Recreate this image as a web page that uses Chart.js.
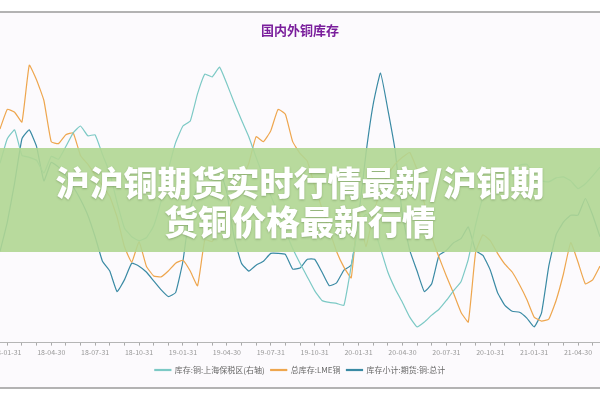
<!DOCTYPE html>
<html>
<head>
<meta charset="utf-8">
<script src="https://cdn.jsdelivr.net/npm/chart.js@4"></script>
<style>
  html, body { margin: 0; padding: 0; background: #ffffff; }
  #wrap { width: 600px; height: 400px; }
</style>
</head>
<body>
<div id="wrap"><canvas id="chart" width="600" height="400"></canvas></div>
<script>
// half-month sample dates
const dates = [
    '18-01-15','18-01-31','18-02-15','18-02-28','18-03-15','18-03-31','18-04-15','18-04-30','18-05-15','18-05-31','18-06-15','18-06-30',
    '18-07-15','18-07-31','18-08-15','18-08-31','18-09-15','18-09-30','18-10-15','18-10-31','18-11-15','18-11-30','18-12-15','18-12-31',
    '19-01-15','19-01-31','19-02-15','19-02-28','19-03-15','19-03-31','19-04-15','19-04-30','19-05-15','19-05-31','19-06-15','19-06-30',
    '19-07-15','19-07-31','19-08-15','19-08-31','19-09-15','19-09-30','19-10-15','19-10-31','19-11-15','19-11-30','19-12-15','19-12-31',
    '20-01-15','20-01-31','20-02-15','20-02-29','20-03-15','20-03-31','20-04-15','20-04-30','20-05-15','20-05-31','20-06-15','20-06-30',
    '20-07-15','20-07-31','20-08-15','20-08-31','20-09-15','20-09-30','20-10-15','20-10-31','20-11-15','20-11-30','20-12-15','20-12-31',
    '21-01-15','21-01-31','21-02-15','21-02-28','21-03-15','21-03-31','21-04-15','21-04-30','21-05-15','21-05-31','21-06-15'
];
const tickLabels = ['18-01-31','18-04-30','18-07-31','18-10-31','19-01-31','19-04-30','19-07-31','19-10-31',
    '20-01-31','20-04-30','20-07-31','20-10-31','21-01-31','21-04-30'];

// 库存:铜:上海保税区 (right axis, 万吨)
const bondedStock = [
    37.0, 42.0, 43.8, 38.6, 38.2, 37.6, 35.0, 38.4, 37.8, 40.4,
    43.2, 44.6, 42.6, 42.8, 38.8, 35.0, 29.0, 23.8, 22.0, 21.2,
    21.8, 24.2, 29.2, 35.6, 41.2, 44.6, 45.6, 51.2, 55.2, 54.6,
    56.6, 53.2, 49.4, 45.8, 42.4, 38.2, 34.2, 30.4, 26.8, 23.2,
    19.6, 16.6, 13.8, 11.0, 9.0, 8.6, 8.4, 8.0, 16.0, 24.0,
    26.6, 24.2, 19.6, 14.8, 11.4, 8.6, 5.6, 3.6, 4.6, 6.0,
    7.2, 9.0, 11.0, 12.8, 17.4, 24.4, 30.0, 31.8, 33.0, 34.0,
    35.2, 36.6, 36.8, 34.8, 33.4, 33.2, 34.0, 34.2, 33.4, 31.8,
    32.8, 34.4, 36.2
];
// 总库存:LME铜 (万吨)
const lmeStock = [
    22.0, 24.0, 23.7, 22.7, 28.5, 27.0, 24.9, 20.7, 20.5, 21.4,
    21.6, 19.3, 18.4, 17.3, 16.2, 15.1, 13.0, 10.0, 8.4, 10.5,
    8.0, 7.0, 6.9, 7.5, 8.3, 8.6, 7.5, 6.0, 10.7, 10.5,
    12.0, 13.5, 15.0, 16.7, 18.5, 21.2, 20.7, 21.8, 24.0, 23.5,
    20.7, 19.5, 18.7, 16.2, 13.9, 11.7, 9.5, 7.9, 6.8, 13.7,
    10.0, 13.2, 15.7, 17.3, 18.4, 19.1, 19.6, 17.8, 14.4, 11.0,
    8.9, 7.0, 5.2, 3.3, 2.3, 9.4, 11.2, 10.6, 9.3, 8.2,
    7.4, 6.1, 4.6, 2.8, 2.4, 2.6, 4.5, 7.2, 10.4, 8.4,
    6.2, 6.6, 8.0
];
// 库存小计:期货:铜:总计 (万吨)
const shfeStock = [
    9.5, 12.5, 16.5, 21.0, 21.9, 20.2, 16.7, 18.6, 18.1, 17.2,
    16.1, 14.8, 13.2, 11.0, 8.5, 7.5, 5.4, 6.6, 8.3, 8.0,
    7.4, 6.5, 5.6, 4.9, 5.3, 8.5, 13.9, 16.1, 17.2, 18.0,
    17.9, 15.5, 10.9, 8.3, 7.5, 8.1, 8.5, 9.3, 9.3, 9.2,
    7.7, 7.8, 8.7, 8.7, 7.4, 6.0, 6.3, 7.6, 8.1, 13.0,
    19.4, 24.5, 27.7, 24.0, 19.8, 13.2, 9.6, 7.5, 5.4, 6.2,
    9.1, 9.6, 10.4, 10.8, 12.0, 9.6, 9.1, 7.6, 5.3, 4.0,
    3.4, 3.3, 2.7, 1.8, 3.2, 8.0, 11.2, 12.5, 13.2, 13.2,
    14.9, 13.2, 11.0
];

const cjk = "'Noto Sans CJK SC', 'Noto Sans', sans-serif";

// page frame, background and the green banner on top
const decor = {
    id: 'decor',
    beforeDraw(chart) {
        const c = chart.ctx;
        c.save();
        c.fillStyle = '#fcfafd';
        c.fillRect(0, 12, 600, 376);
        c.strokeStyle = '#9a9a9a';
        c.lineWidth = 1.5;
        c.beginPath();
        c.moveTo(0, 12); c.lineTo(600, 12);
        c.moveTo(0, 388); c.lineTo(600, 388);
        c.stroke();
        c.restore();
    },
    afterDraw(chart) {
        const c = chart.ctx;
        c.save();
        c.fillStyle = 'rgba(176,214,146,0.9)';
        c.fillRect(0, 148, 600, 104);
        c.font = "900 34px " + cjk;
        c.textAlign = 'center';
        c.textBaseline = 'middle';
        c.shadowColor = 'rgba(60,90,40,0.35)';
        c.shadowBlur = 2;
        c.shadowOffsetY = 1;
        c.fillStyle = '#ffffff';
        c.fillText('沪沪铜期货实时行情最新/沪铜期', 300, 183);
        c.fillText('货铜价格最新行情', 300, 222);
        c.restore();
    }
};

var ctx = document.getElementById('chart').getContext('2d');
var myChart = new Chart(ctx, {
    type: 'line',
    data: {
        labels: dates,
        datasets: [
            {
                label: '库存:铜:上海保税区(右轴)',
                data: bondedStock,
                yAxisID: 'y1',
                borderColor: '#7cc9c5',
                backgroundColor: '#7cc9c5'
            },
            {
                label: '总库存:LME铜',
                data: lmeStock,
                yAxisID: 'y',
                borderColor: '#eea64e',
                backgroundColor: '#eea64e'
            },
            {
                label: '库存小计:期货:铜:总计',
                data: shfeStock,
                yAxisID: 'y',
                borderColor: '#3a8aa4',
                backgroundColor: '#3a8aa4'
            }
        ]
    },
    options: {
        responsive: false,
        animation: false,
        layout: { padding: { left: 0, right: 0, top: 0, bottom: 16 } },
        elements: {
            line: { borderWidth: 1.2, tension: 0.12 },
            point: { radius: 0 }
        },
        scales: {
            x: {
                offset: false,
                afterFit(scale) { scale.paddingLeft = 0; scale.paddingRight = 0; },
                border: { color: '#b5b5b5' },
                grid: {
                    drawOnChartArea: false,
                    tickLength: 3,
                    tickColor: c => (c.index % 2 === 1 ? '#aaaaaa' : 'rgba(0,0,0,0)')
                },
                ticks: {
                    autoSkip: false,
                    maxRotation: 0,
                    padding: 3,
                    color: '#999999',
                    font: { size: 7, family: cjk },
                    callback: function (value) {
                        const lab = this.getLabelForValue(value);
                        return tickLabels.includes(lab) ? lab : '';
                    }
                }
            },
            y: { display: false, min: 0.2, max: 30.5 },
            y1: { display: false, position: 'right', min: 0.4, max: 61 }
        },
        plugins: {
            title: {
                display: true,
                text: '国内外铜库存',
                color: '#7a1e9c',
                font: { size: 13, weight: 'bold', family: cjk },
                padding: { top: 22, bottom: 8 }
            },
            legend: {
                position: 'bottom',
                labels: {
                    boxWidth: 16,
                    boxHeight: 1,
                    padding: 6,
                    color: '#666666',
                    font: { size: 8, family: cjk }
                }
            },
            tooltip: { enabled: false }
        }
    },
    plugins: [decor]
});
</script>
</body>
</html>
